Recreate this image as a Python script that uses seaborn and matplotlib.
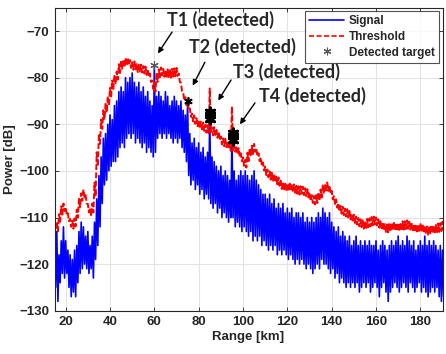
import numpy as np
import pandas as pd
import matplotlib
matplotlib.use("Agg")
import matplotlib.pyplot as plt
import seaborn as sns
from matplotlib.lines import Line2D

# range axis, 1 km steps from 15 to 190 km
range_km = list(range(15, 191))

# signal: local peak / trough values (dB)
signal_hi = [
    -115, -113, -118, -115, -112, -115, -117, -118, -119, -117,
    -116, -113, -111, -112, -114, -113, -116, -114, -111, -106,
    -101, -97, -93, -92, -90, -88, -89, -86, -85, -83,
    -82, -83, -80, -81, -80, -79, -81, -82, -81, -83,
    -82, -84, -83, -85, -86, -77.3, -84, -83, -84, -85,
    -83, -84, -86, -85, -84, -85, -86, -85, -87, -88,
    -85, -92, -94, -93, -95, -94, -96, -95, -97, -96,
    -88, -97, -98, -99, -100, -99, -101, -100, -101, -102,
    -92.5, -100, -102, -101, -100, -101, -100, -101, -102, -101,
    -100, -102, -103, -104, -105, -105, -106, -105, -107, -106,
    -108, -107, -108, -107, -109, -108, -109, -108, -110, -109,
    -109, -110, -109, -111, -110, -111, -110, -111, -110, -109,
    -110, -108, -109, -110, -109, -111, -112, -113, -112, -114,
    -113, -114, -115, -114, -116, -115, -114, -116, -115, -116,
    -115, -116, -115, -116, -116, -115, -117, -116, -115, -116,
    -117, -116, -115, -116, -115, -114, -116, -115, -116, -114,
    -115, -116, -115, -117, -116, -115, -116, -114, -116, -115,
    -116, -115, -116, -117, -116, -117,
]
signal_lo = [
    -125, -128, -124, -122, -123, -122, -125, -127, -126, -127,
    -124, -122, -121, -120, -121, -122, -121, -123, -119, -116,
    -112, -107, -103, -102, -100, -99, -98, -98, -97, -95,
    -94, -95, -93, -92, -93, -92, -94, -93, -94, -95,
    -94, -96, -95, -96, -97, -96, -93, -92, -93, -92,
    -93, -92, -93, -94, -93, -94, -93, -95, -96, -98,
    -101, -103, -102, -104, -103, -105, -104, -106, -105, -106,
    -107, -108, -107, -109, -108, -110, -109, -110, -111, -110,
    -110, -112, -111, -112, -113, -112, -113, -114, -113, -115,
    -114, -115, -114, -116, -115, -116, -117, -116, -117, -116,
    -118, -117, -118, -117, -118, -119, -118, -119, -120, -119,
    -120, -119, -120, -121, -120, -121, -122, -121, -120, -121,
    -119, -120, -120, -121, -122, -121, -123, -122, -124, -123,
    -124, -125, -124, -125, -124, -125, -124, -126, -125, -124,
    -125, -124, -126, -125, -124, -125, -127, -125, -124, -126,
    -128, -126, -125, -124, -125, -126, -125, -124, -125, -126,
    -124, -125, -126, -125, -124, -126, -125, -126, -127, -126,
    -125, -126, -125, -127, -128, -127,
]

# threshold: upper / lower edge of the jagged red band (dB)
threshold_hi = [
    -110.2, -111.0, -109.3, -107.6, -107.0, -107.8, -109.1, -110.3, -110.7, -110.2,
    -108.3, -106.0, -104.8, -104.0, -105.2, -107.1, -108.0, -107.0, -102.5, -96.0,
    -92.0, -89.0, -87.0, -85.6, -84.0, -82.2, -80.6, -79.6, -78.7, -77.1,
    -76.4, -76.1, -75.8, -75.7, -76.2, -76.7, -76.5, -77.1, -77.0, -77.2,
    -77.5, -77.6, -78.2, -79.1, -80.6, -81.0, -79.2, -78.2, -77.8, -78.1,
    -78.4, -78.2, -78.2, -78.1, -78.0, -77.9, -79.1, -81.1, -83.1, -84.2,
    -85.1, -86.6, -87.7, -88.1, -88.7, -89.1, -89.4, -89.6, -90.1, -90.2,
    -82.3, -90.7, -90.6, -91.2, -91.6, -92.6, -93.0, -93.1, -93.6, -94.0,
    -86.2, -94.2, -94.6, -95.1, -96.2, -97.1, -97.6, -96.1, -95.2, -94.6,
    -94.2, -95.1, -96.2, -97.1, -98.2, -99.1, -99.7, -100.1, -100.4, -100.6,
    -101.2, -101.4, -102.1, -102.5, -102.5, -102.7, -102.5, -102.8, -102.9, -103.2,
    -103.3, -103.3, -103.4, -103.7, -103.9, -104.6, -105.2, -105.4, -105.2, -104.6,
    -104.0, -103.1, -102.8, -102.5, -103.1, -104.3, -105.4, -106.1, -106.9, -107.5,
    -107.7, -108.1, -108.2, -108.6, -109.2, -109.4, -109.8, -110.1, -110.4, -110.6,
    -110.8, -110.3, -110.2, -109.9, -109.8, -110.0, -110.4, -110.8, -111.0, -111.4,
    -111.5, -111.2, -111.1, -110.9, -111.2, -111.2, -111.1, -110.8, -110.8, -110.6,
    -110.9, -111.1, -111.4, -111.5, -111.5, -111.2, -111.4, -111.8, -111.9, -111.9,
    -111.6, -111.7, -111.6, -111.3, -111.2, -110.9,
]
threshold_lo = [
    -112.3, -113.0, -110.9, -109.4, -108.6, -109.5, -110.8, -112.0, -112.4, -111.9,
    -110.0, -107.8, -106.4, -105.7, -107.0, -108.9, -109.7, -108.9, -105.5, -99.0,
    -94.2, -91.0, -89.0, -87.5, -86.0, -84.0, -82.4, -81.4, -80.4, -79.0,
    -78.1, -77.8, -77.4, -77.3, -77.9, -78.3, -78.2, -78.8, -78.7, -78.9,
    -79.1, -79.4, -79.8, -80.9, -82.4, -83.0, -80.9, -79.9, -79.5, -79.8,
    -80.1, -79.9, -80.0, -79.8, -79.7, -79.6, -80.9, -82.9, -84.9, -85.9,
    -87.0, -88.4, -89.4, -89.9, -90.4, -90.9, -91.1, -91.4, -91.8, -91.9,
    -91.6, -92.4, -92.3, -92.9, -93.4, -94.3, -94.7, -94.9, -95.3, -95.7,
    -95.6, -95.9, -96.4, -96.9, -97.9, -98.9, -99.3, -97.9, -96.9, -96.4,
    -95.9, -96.9, -97.9, -98.9, -99.9, -100.9, -101.4, -101.9, -102.1, -102.4,
    -102.9, -103.2, -103.9, -104.2, -104.3, -104.4, -104.2, -104.5, -104.7, -104.9,
    -105.1, -104.9, -105.2, -105.4, -105.7, -106.4, -106.9, -107.2, -106.9, -106.4,
    -105.7, -104.9, -104.5, -104.3, -104.9, -106.1, -107.1, -107.9, -108.7, -109.2,
    -109.5, -109.8, -110.0, -110.4, -110.9, -111.2, -111.5, -111.9, -112.1, -112.4,
    -112.5, -112.1, -111.9, -111.7, -111.5, -111.7, -112.2, -112.5, -112.8, -113.1,
    -113.2, -113.0, -112.8, -112.7, -112.9, -113.0, -112.8, -112.6, -112.5, -112.4,
    -112.6, -112.9, -113.1, -113.3, -113.2, -113.0, -113.2, -113.5, -113.7, -113.6,
    -113.4, -113.5, -113.3, -113.1, -112.9, -112.6,
]

# detected targets (T3 and T4 show several stacked markers)
target_km = [60, 75, 85.2, 85.2, 85.2, 95.4, 95.4, 95.4]
target_db = [-77.3, -85, -87.4, -88.1, -88.8, -91.9, -92.6, -93.3]
target_labels = ["T1 (detected)", "T2 (detected)", "T3 (detected)", "T4 (detected)"]

# interleave peaks and troughs into one jagged trace
def jagged(hi, lo):
    x = np.ravel(np.column_stack([range_km, np.array(range_km) + 0.5]))
    y = np.ravel(np.column_stack([hi, lo]))
    return pd.DataFrame({"Range": x, "Power": y})

sig = jagged(signal_hi, signal_lo)
thr = jagged(threshold_hi, threshold_lo)

sns.set_style("whitegrid")
plt.rcParams["font.family"] = ["Liberation Sans", "DejaVu Sans"]

fig, ax = plt.subplots(figsize=(4.46, 3.54), dpi=100)
fig.subplots_adjust(left=0.1224, right=0.9922, bottom=0.1223, top=0.978)

sns.lineplot(data=sig, x="Range", y="Power", ax=ax, color="#0000ff", lw=1.2,
             sort=False, estimator=None)
sns.lineplot(data=thr, x="Range", y="Power", ax=ax, color="#ff0000", lw=1.4,
             sort=False, estimator=None, linestyle=(0, (3, 1.2)))

# asterisk markers: T1 is lighter, T3/T4 pile up into blobs
ast = (6, 2, 0)
ax.plot(target_km[:1], target_db[:1], ls="none", marker=ast, color="#555555",
        markersize=6, mew=0.8, zorder=5)
ax.plot(target_km[1:2], target_db[1:2], ls="none", marker=ast, color="black",
        markersize=6, mew=1.2, zorder=5)
sns.scatterplot(x=target_km[2:], y=target_db[2:], ax=ax, marker=ast, color="black",
                s=42, linewidth=2.2, edgecolor="black", zorder=5)

ax.set_xlim(15, 190)
ax.set_ylim(-130, -65)
ax.set_xticks(range(20, 181, 20))
ax.set_yticks(range(-130, -69, 10))
ax.grid(True, color="#e3e3e3", lw=0.8)
for s in ax.spines.values():
    s.set_color("#262626")
    s.set_linewidth(0.8)
ax.tick_params(axis="both", direction="in", length=3, labelsize=9.5, width=0.6,
               top=True, right=True, bottom=True, left=True, pad=4)
for t in ax.get_xticklabels() + ax.get_yticklabels():
    t.set_fontweight("bold")
ax.set_xlabel("Range [km]", fontsize=9.5, fontweight="bold", labelpad=2)
ax.set_ylabel("Power [dB]", fontsize=9.5, fontweight="bold", labelpad=2)

# annotations
ann_font = dict(fontsize=13, fontweight="bold", family=["Lato", "DejaVu Sans"],
                va="center", ha="left")
text_pos = [(65.8, -67.6), (75.8, -73.3), (95.3, -78.8), (107.3, -84.0)]
arrows = [((68.0, -70.2), (61.6, -74.8)),
          ((82.8, -76.7), (77.3, -81.7)),
          ((94.6, -80.5), (88.8, -84.9)),
          ((105.4, -85.4), (98.6, -90.0))]
for label, (tx, ty), (tail, head) in zip(target_labels, text_pos, arrows):
    ax.text(tx, ty, label, **ann_font)
    ax.annotate("", xy=head, xytext=tail,
                arrowprops=dict(arrowstyle="-|>", color="black", lw=1.0,
                                mutation_scale=8, shrinkA=0, shrinkB=0))

handles = [Line2D([], [], color="#0000ff", lw=1.2),
           Line2D([], [], color="#ff0000", lw=1.2, linestyle=(0, (3, 1.5))),
           Line2D([], [], color="#555555", marker=ast, lw=0, markersize=5.5, mew=0.8)]
leg = ax.legend(handles, ["Signal", "Threshold", "Detected target"],
                loc="upper right", prop={"weight": "bold", "size": 8.5},
                frameon=True, fancybox=False, edgecolor="#262626",
                borderpad=0.35, labelspacing=0.3, handlelength=3.0,
                handletextpad=0.4, borderaxespad=0.3)
leg.get_frame().set_linewidth(0.8)

fig.savefig("out.png", dpi=100)
